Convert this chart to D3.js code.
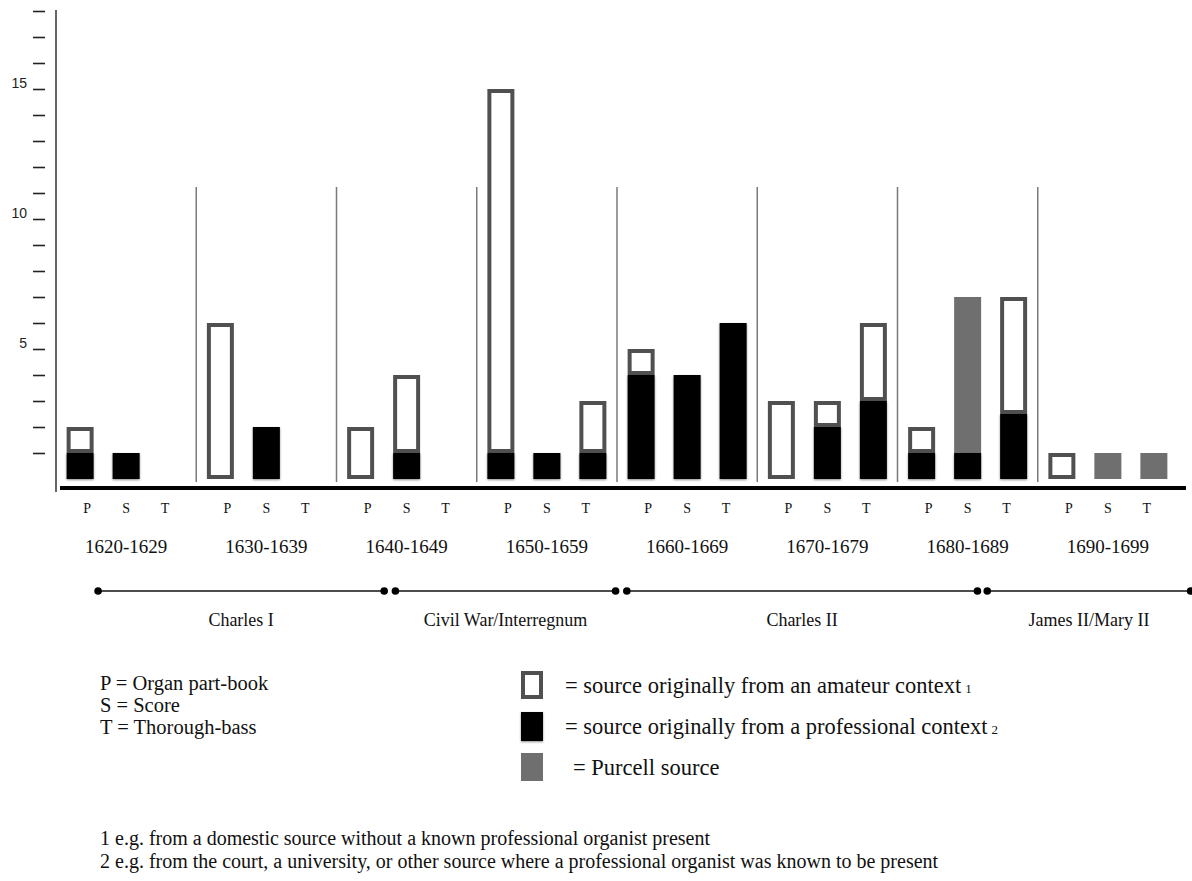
<!DOCTYPE html>
<html>
<head>
<meta charset="utf-8">
<script src="https://cdn.jsdelivr.net/npm/d3@7"></script>
<style>
  html, body { margin: 0; padding: 0; background: #fff; }
  svg { display: block; }
  .serif { font-family: "Liberation Serif", "Times New Roman", serif; fill: #111; }
  .sans { font-family: "Liberation Sans", Arial, sans-serif; }
</style>
</head>
<body>
<svg id="chart" width="1192" height="881"></svg>
<script>
// ---------------- DATA ----------------
const decades = ["1620-1629", "1630-1639", "1640-1649", "1650-1659",
                 "1660-1669", "1670-1679", "1680-1689", "1690-1699"];
const types = ["P", "S", "T"];
// counts per decade, in order P, S, T
const professional = [[1, 1, 0], [0, 2, 0], [0, 1, 0], [1, 1, 1],
                      [4, 4, 6], [0, 2, 3], [1, 1, 2.5], [0, 0, 0]];
const purcell      = [[0, 0, 0], [0, 0, 0], [0, 0, 0], [0, 0, 0],
                      [0, 0, 0], [0, 0, 0], [0, 6, 0], [0, 1, 1]];
const amateur      = [[1, 0, 0], [6, 0, 0], [2, 3, 0], [14, 0, 2],
                      [1, 0, 0], [3, 1, 3], [1, 0, 4.5], [1, 0, 0]];
const yTickValues = d3.range(1, 19);
const yTickLabels = [5, 10, 15];
const reignNames = ["Charles I", "Civil War/Interregnum", "Charles II", "James II/Mary II"];
const reignStart = [1623.0, 1644.2, 1660.7, 1686.4];
const reignEnd   = [1643.4, 1659.9, 1685.7, 1700.9];
const keyLines = ["P = Organ part-book", "S = Score", "T = Thorough-bass"];
const legendKinds = ["amateur", "professional", "purcell"];
const legendTexts = ["= source originally from an amateur context",
                     "= source originally from a professional context",
                     "= Purcell source"];
const legendSups = ["1", "2", ""];
const footnotes = ["1 e.g. from a domestic source without a known professional organist present",
                   "2 e.g. from the court, a university, or other source where a professional organist was known to be present"];

// ---------------- STYLE ----------------
const C_OUT = "#505050", C_BLACK = "#000", C_GREY = "#6f6f6f";

const svg = d3.select("#chart");
const defs = svg.append("defs");
const f = defs.append("filter").attr("id", "shadow")
  .attr("x", "-30%").attr("y", "-30%").attr("width", "160%").attr("height", "160%");
f.append("feDropShadow").attr("dx", 0).attr("dy", 1).attr("stdDeviation", 1.3)
  .attr("flood-color", "#000").attr("flood-opacity", 0.45);

// ---------------- SCALES ----------------
const x0 = d3.scaleBand().domain(decades).range([56, 1178]);
const x1 = d3.scalePoint().domain(types).range([-46, 46]);
const xl = d3.scalePoint().domain(types).range([-39, 39]);
const y = d3.scaleLinear().domain([0, 15]).range([479, 89]);
const yearX = d3.scaleLinear().domain([1620, 1700]).range([56, 1178]);
const barW = 27;
const center = d => x0(d) + x0.bandwidth() / 2;

// ---------------- AXIS ----------------
const axis = d3.axisLeft(y).tickValues(yTickValues).tickSize(12).tickPadding(6)
  .tickFormat(d => yTickLabels.includes(d) ? d : "");
const ag = svg.append("g").attr("transform", "translate(45,0)").call(axis);
ag.select(".domain").remove();
ag.selectAll(".tick line").attr("stroke", "#222").attr("stroke-width", 1.6);
ag.selectAll(".tick text").attr("class", "sans").attr("font-size", 14)
  .attr("fill", "#222").attr("dy", "-0.12em");

svg.append("line").attr("x1", 56).attr("x2", 56).attr("y1", 10).attr("y2", 492)
  .attr("stroke", "#333").attr("stroke-width", 1.5);

// separators between decades
svg.append("g").selectAll("line").data(decades.slice(1)).join("line")
  .attr("x1", d => x0(d)).attr("x2", d => x0(d))
  .attr("y1", 187).attr("y2", 482)
  .attr("stroke", "#7a7a7a").attr("stroke-width", 1.5);

// baseline
svg.append("line").attr("x1", 60).attr("x2", 1186).attr("y1", 488).attr("y2", 488)
  .attr("stroke", "#000").attr("stroke-width", 4);

// ---------------- BARS ----------------
const cells = [];
decades.forEach((dec, i) => types.forEach((t, j) => {
  cells.push({dec, t, p: professional[i][j], u: purcell[i][j], a: amateur[i][j]});
}));
const bx = d => center(d.dec) + x1(d.t) - barW / 2;

const bars = svg.append("g");
bars.selectAll("rect.am").data(cells.filter(d => d.a > 0)).join("rect")
  .attr("class", "am")
  .attr("x", d => bx(d) + 2).attr("width", barW - 4)
  .attr("y", d => y(d.p + d.u + d.a) + 2)
  .attr("height", d => y(d.p + d.u) - y(d.p + d.u + d.a) - 4)
  .attr("fill", "#fff").attr("stroke", C_OUT).attr("stroke-width", 4);
bars.selectAll("rect.pu").data(cells.filter(d => d.u > 0)).join("rect")
  .attr("class", "pu")
  .attr("x", d => bx(d)).attr("width", barW)
  .attr("y", d => y(d.p + d.u)).attr("height", d => y(d.p) - y(d.p + d.u))
  .attr("fill", C_GREY);
bars.selectAll("rect.pr").data(cells.filter(d => d.p > 0)).join("rect")
  .attr("class", "pr")
  .attr("x", d => bx(d)).attr("width", barW)
  .attr("y", d => y(d.p)).attr("height", d => y(0) - y(d.p))
  .attr("fill", C_BLACK).attr("filter", "url(#shadow)");

// ---------------- CATEGORY LABELS ----------------
svg.append("g").selectAll("text").data(cells).join("text")
  .attr("class", "serif").attr("font-size", 14).attr("text-anchor", "middle")
  .attr("x", d => center(d.dec) + xl(d.t)).attr("y", 513)
  .text(d => d.t);

svg.append("g").selectAll("text").data(decades).join("text")
  .attr("class", "serif").attr("font-size", 19).attr("text-anchor", "middle")
  .attr("x", d => center(d)).attr("y", 553)
  .text(d => d);

// ---------------- REIGN TIMELINE ----------------
const reigns = reignNames.map((n, i) => ({n, s: reignStart[i], e: reignEnd[i]}));
const tl = svg.append("g");
tl.selectAll("line").data(reigns).join("line")
  .attr("x1", d => yearX(d.s)).attr("x2", d => yearX(d.e))
  .attr("y1", 591).attr("y2", 591).attr("stroke", "#111").attr("stroke-width", 1.6);
tl.selectAll("circle").data(reigns.flatMap(d => [d.s, d.e])).join("circle")
  .attr("cx", d => yearX(d)).attr("cy", 591).attr("r", 3.8).attr("fill", "#000");
tl.selectAll("text").data(reigns).join("text")
  .attr("class", "serif").attr("font-size", 18).attr("text-anchor", "middle")
  .attr("x", d => (yearX(d.s) + yearX(d.e)) / 2).attr("y", 626)
  .text(d => d.n);

// ---------------- LEGEND ----------------
svg.append("g").selectAll("text").data(keyLines).join("text")
  .attr("class", "serif").attr("font-size", 20.5)
  .attr("x", 100).attr("y", (d, i) => 690 + i * 22)
  .text(d => d);

const lg = svg.append("g").selectAll("g").data(legendKinds).join("g")
  .attr("transform", (d, i) => `translate(521,${671 + i * 41})`);
lg.filter(d => d === "amateur").append("rect")
  .attr("x", 2).attr("y", 2).attr("width", 18).attr("height", 24)
  .attr("fill", "#fff").attr("stroke", C_OUT).attr("stroke-width", 4);
lg.filter(d => d === "professional").append("rect")
  .attr("x", 0).attr("y", 0).attr("width", 22).attr("height", 29)
  .attr("fill", C_BLACK).attr("filter", "url(#shadow)");
lg.filter(d => d === "purcell").append("rect")
  .attr("x", 0).attr("y", 0).attr("width", 22).attr("height", 28)
  .attr("fill", C_GREY);
const lt = lg.append("text").attr("class", "serif").attr("font-size", 22.5)
  .attr("x", (d, i) => i === 2 ? 52 : 44).attr("y", 22);
lt.append("tspan").text((d, i) => legendTexts[i]);
lt.append("tspan").attr("font-size", 13).attr("dx", 4).text((d, i) => legendSups[i]);

svg.append("g").selectAll("text").data(footnotes).join("text")
  .attr("class", "serif").attr("font-size", 20)
  .attr("x", 100).attr("y", (d, i) => 845 + i * 23)
  .text(d => d);
</script>
</body>
</html>
